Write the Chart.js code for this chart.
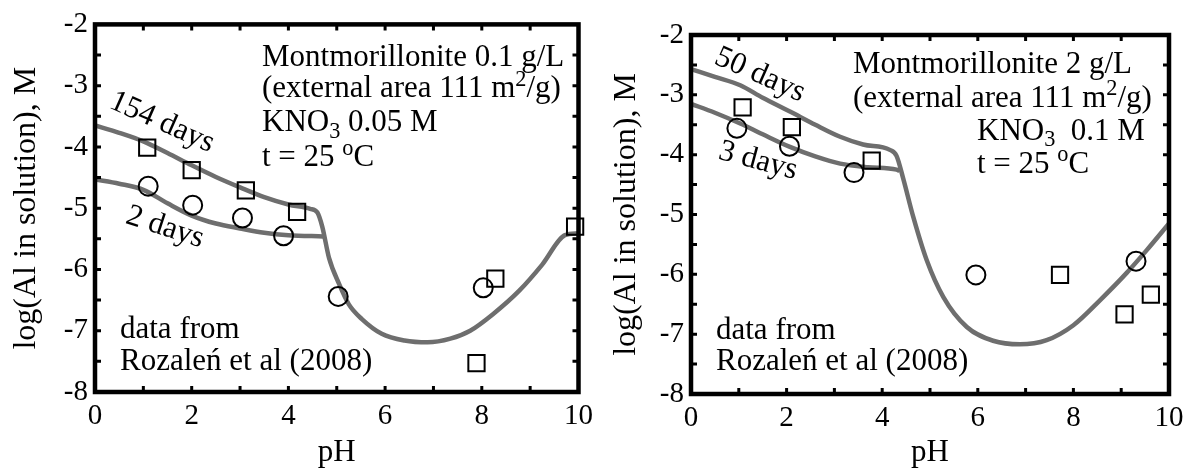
<!DOCTYPE html>
<html><head><meta charset="utf-8">
<script src="https://cdn.jsdelivr.net/npm/chart.js@4/dist/chart.umd.min.js"></script>
<style>
html,body{margin:0;padding:0;background:#fff;}
#wrap{position:relative;width:1193px;height:471px;overflow:hidden;}
#c1{position:absolute;left:0;top:0;}
#c2{position:absolute;left:600px;top:0;}
</style></head>
<body><div id="wrap"><canvas id="c1" width="600" height="471"></canvas><canvas id="c2" width="593" height="471"></canvas></div>
<script>
// ---------- data: left panel (0.1 g/L) ----------
const leftModel154PH = [0, 0.5, 1, 1.5, 2, 2.5, 3, 3.5, 4, 4.45, 4.6, 4.7, 4.84, 5.05, 5.25, 5.52, 5.93, 6.4, 6.88, 7.35, 7.76, 8.23, 8.77, 9.25, 9.72, 10];
const leftModel154Al = [-3.65, -3.77, -3.91, -4.10, -4.30, -4.49, -4.66, -4.82, -4.94, -5.01, -5.07, -5.30, -5.81, -6.24, -6.57, -6.81, -7.05, -7.16, -7.19, -7.13, -7.0, -6.73, -6.35, -5.92, -5.44, -5.41];
const leftModel2PH = [0, 0.5, 1, 1.5, 2, 2.5, 3, 3.5, 4, 4.72];
const leftModel2Al = [-4.53, -4.60, -4.70, -4.92, -5.12, -5.25, -5.33, -5.40, -5.44, -5.46];
const leftSquarePH = [1.08, 2.0, 3.12, 4.18, 7.89, 8.28, 9.93];
const leftSquareAl = [-4.01, -4.38, -4.71, -5.06, -7.53, -6.15, -5.30];
const leftCirclePH = [1.10, 2.02, 3.05, 3.90, 5.03, 8.03];
const leftCircleAl = [-4.64, -4.95, -5.16, -5.45, -6.44, -6.30];

// ---------- data: right panel (2 g/L) ----------
const rightModel50PH = [0, 0.5, 1.03, 1.5, 2.07, 2.6, 3.12, 3.6, 4.16, 4.30, 4.44, 4.65, 4.93, 5.28, 5.77, 6.32, 6.88, 7.44, 8.0, 8.56, 9.11, 9.53, 10];
const rightModel50Al = [-2.57, -2.70, -2.84, -3.05, -3.28, -3.50, -3.70, -3.83, -3.92, -4.02, -4.40, -5.04, -5.76, -6.38, -6.88, -7.11, -7.17, -7.10, -6.85, -6.43, -5.98, -5.60, -5.15];
const rightModel3PH = [0, 0.5, 1.03, 1.5, 2.07, 2.6, 3.12, 3.7, 4.30, 4.36];
const rightModel3Al = [-3.15, -3.30, -3.48, -3.66, -3.87, -4.03, -4.15, -4.21, -4.25, -4.27];
const rightSquarePH = [1.08, 2.11, 3.78, 7.72, 9.07, 9.62];
const rightSquareAl = [-3.21, -3.54, -4.10, -6.01, -6.67, -6.34];
const rightCirclePH = [0.96, 2.06, 3.41, 5.96, 9.31];
const rightCircleAl = [-3.56, -3.86, -4.30, -6.01, -5.78];

// ---------- axes ----------
const pHMin = 0, pHMax = 10, pHStep = 2;
const logMin = -8, logMax = -2, logStep = 1;
const xTitle = 'pH';
const yTitle = 'log(Al in solution), M';

const SERIF = '"Liberation Serif", "Times New Roman", serif';
const LINE_COLOR = '#6e6e6e';

function pts(xs, ys){ return xs.map((x,i)=>({x:x, y:ys[i]})); }

function lineDs(label, xs, ys){
  return {label, data: pts(xs, ys), showLine:true, borderColor:LINE_COLOR, borderWidth:4.5,
          pointRadius:0, cubicInterpolationMode:'monotone', fill:false, order:2};
}
function markerDs(label, xs, ys, style){
  return {label, data: pts(xs, ys), showLine:false, pointStyle:style,
          pointRadius: style==='rect'?11.5:9.5, pointBorderWidth:2, pointBorderColor:'#000',
          pointBackgroundColor:'rgba(0,0,0,0)', clip:false, order:1};
}

const decoPlugin = {
  id:'deco',
  afterDatasetsDraw(chart, args, opts){
    const ctx = chart.ctx, a = chart.chartArea;
    const xs = chart.scales.x, ys = chart.scales.y;
    ctx.save();
    // minor ticks inside
    ctx.strokeStyle = '#000'; ctx.lineWidth = 3;
    ctx.beginPath();
    for (let v = pHMin + 1; v < pHMax; v += 1){
      const px = xs.getPixelForValue(v);
      ctx.moveTo(px, a.bottom); ctx.lineTo(px, a.bottom - 6);
      ctx.moveTo(px, a.top); ctx.lineTo(px, a.top + 6);
    }
    for (let v = logMin + 0.5; v < logMax; v += 0.5){
      const py = ys.getPixelForValue(v);
      ctx.moveTo(a.left, py); ctx.lineTo(a.left + 6, py);
      ctx.moveTo(a.right, py); ctx.lineTo(a.right - 6, py);
    }
    ctx.stroke();
    // frame
    ctx.lineWidth = 4.5;
    ctx.strokeRect(a.left, a.top, a.right - a.left, a.bottom - a.top);
    // text blocks
    ctx.fillStyle = '#000';
    const fs = opts.fontSize;
    (opts.lines || []).forEach(L => {
      let x = a.left + L.dx, y = a.top + L.dy;
      ctx.textBaseline = 'alphabetic'; ctx.textAlign = 'left';
      L.runs.forEach(r => {
        let size = fs, off = 0;
        if (r.sub){ size = fs*0.72; off = fs*0.2; }
        if (r.sup){ size = fs*0.72; off = -fs*0.38; }
        ctx.font = size + 'px ' + SERIF;
        ctx.fillText(r.t, x, y + off);
        x += ctx.measureText(r.t).width;
      });
    });
    (opts.rotated || []).forEach(R => {
      ctx.save();
      ctx.translate(a.left + R.dx, a.top + R.dy);
      ctx.rotate(R.angle * Math.PI / 180);
      ctx.font = opts.rotSize + 'px ' + SERIF;
      ctx.textAlign = 'center'; ctx.textBaseline = 'middle';
      ctx.fillText(R.t, 0, 0);
      ctx.restore();
    });
    ctx.restore();
  }
};

function makeChart(id, datasets, area, deco){
  const canvas = document.getElementById(id);
  return new Chart(canvas, {
    type:'scatter',
    data:{datasets},
    options:{
      responsive:false, animation:false, devicePixelRatio:1,
      layout:{padding:{top:area.top, right:canvas.width - area.right, left:0, bottom:0}},
      plugins:{legend:{display:false}, tooltip:{enabled:false}, deco},
      scales:{
        x:{type:'linear', min:pHMin, max:pHMax,
           afterFit(s){ s.height = canvas.height - area.bottom; },
           ticks:{stepSize:pHStep, color:'#000', padding:7, font:{family:SERIF, size:29}},
           grid:{display:false, drawTicks:false}, border:{display:false},
           title:{display:true, text:xTitle, color:'#000', font:{family:SERIF, size:31}, padding:{top:0,bottom:0}}},
        y:{type:'linear', min:logMin, max:logMax,
           afterFit(s){ s.width = area.left; },
           ticks:{stepSize:logStep, color:'#000', padding:7, font:{family:SERIF, size:29}},
           grid:{display:false, drawTicks:false}, border:{display:false},
           title:{display:true, text:yTitle, color:'#000', font:{family:SERIF, size:32}, padding:{top:7,bottom:0}}}
      }
    },
    plugins:[decoPlugin]
  });
}

makeChart('c1', [
  markerDs('data, 154 days', leftSquarePH, leftSquareAl, 'rect'),
  markerDs('data, 2 days', leftCirclePH, leftCircleAl, 'circle'),
  lineDs('model 154 days', leftModel154PH, leftModel154Al),
  lineDs('model 2 days', leftModel2PH, leftModel2Al)
], {left:95, right:587, top:21, bottom:392}, {
  fontSize:31, rotSize:31,
  lines:[
    {dx:167, dy:42, runs:[{t:'Montmorillonite 0.1 g/L'}]},
    {dx:167, dy:73, runs:[{t:'(external area 111 m'},{t:'2',sup:1},{t:'/g)'}]},
    {dx:167, dy:107, runs:[{t:'KNO'},{t:'3',sub:1},{t:' 0.05 M'}]},
    {dx:167, dy:142, runs:[{t:'t = 25 '},{t:'o',sup:1},{t:'C'}]},
    {dx:25, dy:314, runs:[{t:'data from'}]},
    {dx:25, dy:346, runs:[{t:'Rozaleń et al (2008)'}]}
  ],
  rotated:[
    {t:'154 days', dx:67, dy:98, angle:24},
    {t:'2 days', dx:70, dy:203, angle:18}
  ]
});

makeChart('c2', [
  markerDs('data, 50 days', rightSquarePH, rightSquareAl, 'rect'),
  markerDs('data, 3 days', rightCirclePH, rightCircleAl, 'circle'),
  lineDs('model 50 days', rightModel50PH, rightModel50Al),
  lineDs('model 3 days', rightModel3PH, rightModel3Al)
], {left:91, right:569, top:35, bottom:394}, {
  fontSize:31, rotSize:31,
  lines:[
    {dx:162, dy:38, runs:[{t:'Montmorillonite 2 g/L'}]},
    {dx:162, dy:72, runs:[{t:'(external area 111 m'},{t:'2',sup:1},{t:'/g)'}]},
    {dx:286, dy:105, runs:[{t:'KNO'},{t:'3',sub:1},{t:'  0.1 M'}]},
    {dx:286, dy:138, runs:[{t:'t = 25 '},{t:'o',sup:1},{t:'C'}]},
    {dx:25, dy:304, runs:[{t:'data from'}]},
    {dx:25, dy:335, runs:[{t:'Rozaleń et al (2008)'}]}
  ],
  rotated:[
    {t:'50 days', dx:69, dy:40, angle:24},
    {t:'3 days', dx:67, dy:126, angle:15}
  ]
});
</script></body></html>
